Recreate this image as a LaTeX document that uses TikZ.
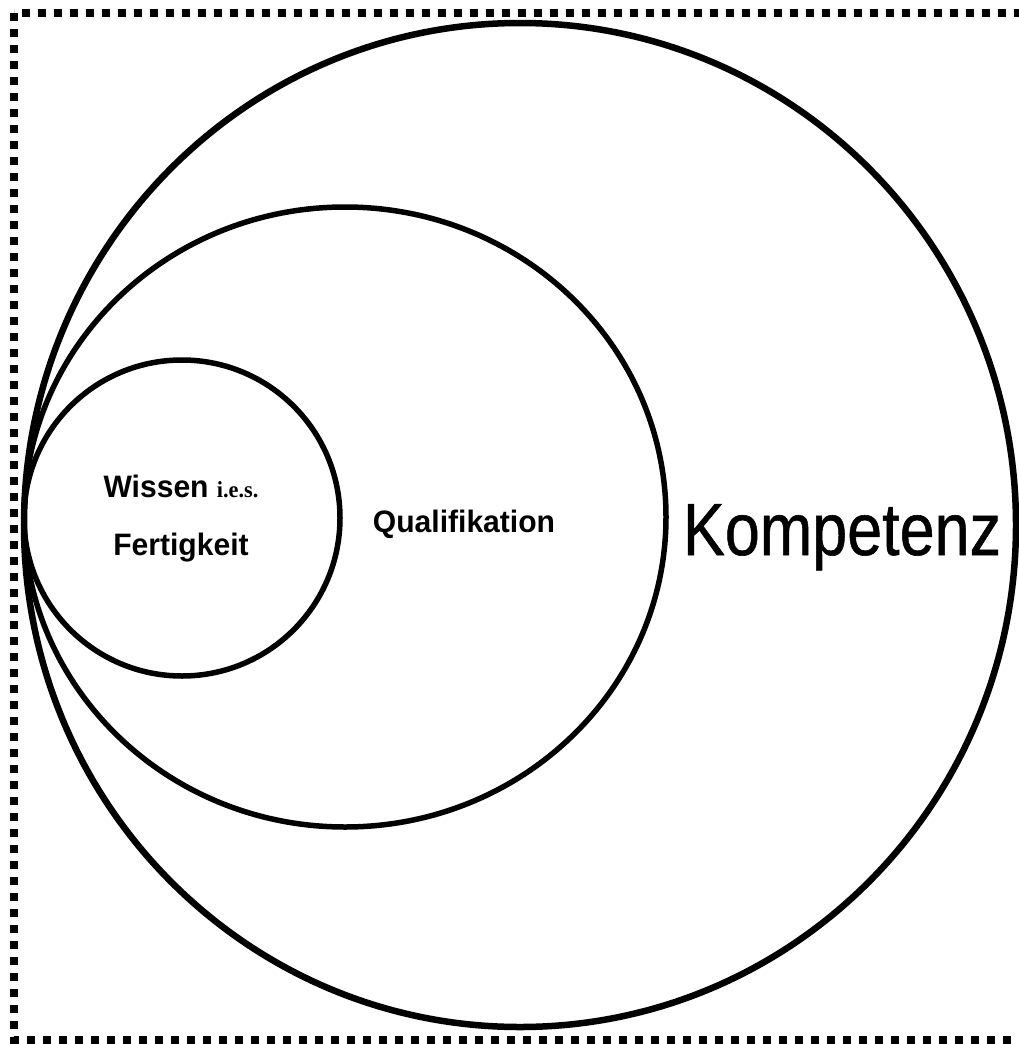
\documentclass[tikz,border=0pt]{standalone}
\usepackage{fontspec}
\setmainfont{Liberation Sans}
\newfontfamily\iesfont{Liberation Serif}
\newfontfamily\heavyfont[FakeBold=0.8]{Liberation Sans}
\usepackage{tikz}
\usetikzlibrary{positioning}
\tikzset{
    ring/.style={draw,line width=#1},
    frame line/.style={line width=8pt,dash pattern=on 8pt off 8pt},
    small label/.style={
        inner sep=0pt,anchor=base,xscale=0.97,
        font=\fontsize{31}{37}\selectfont\bfseries
    },
    big label/.style={
        inner sep=0pt,anchor=base,xscale=0.85,
        font=\fontsize{74}{88}\selectfont\heavyfont
    }
}

\begin{document}
\begin{tikzpicture}[x=1pt,y=-1pt]
\useasboundingbox (0,0) rectangle (1019,1044);
\begin{scope}
\clip (0,0) rectangle (1019,1044);
\draw[frame line] (14,13) rectangle (1035,1040);
\end{scope}
\foreach \cx/\cy/\rx/\ry/\w in {520/525/496/502/6.5,345/517/321/310/5.5,182/518/158/158/5.5}
    \draw[ring=\w pt] (\cx,\cy) ellipse [x radius=\rx pt,y radius=\ry pt];
\node[small label] (wissen) at (181,497) {Wissen {\iesfont\fontsize{23}{27}\selectfont i.e.s.}};
\node[small label] (fertigkeit) at (181,555) {Fertigkeit};
\node[small label] (quali) at (464,532) {Qualifikation};
\node[big label] (kompetenz) at (842,555) {Kompetenz};
\end{tikzpicture}
\end{document}
